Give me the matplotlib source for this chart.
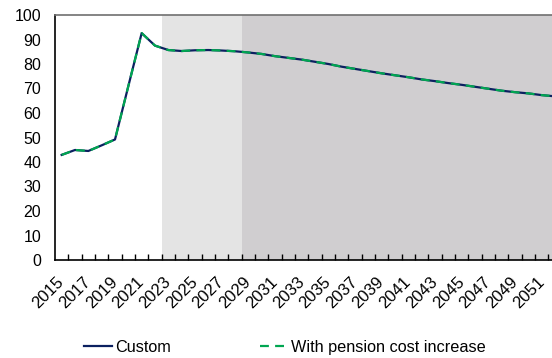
import matplotlib
matplotlib.use("Agg")
import matplotlib.pyplot as plt
from matplotlib.ticker import FixedLocator

plt.rcParams['font.family'] = ['Liberation Sans', 'DejaVu Sans']

years = list(range(2015, 2053))
custom = [42.9, 44.9, 44.5, 46.8, 49.2, 71.0, 92.6, 87.5, 85.7, 85.3,
          85.6, 85.7, 85.5, 85.2, 84.7, 84.1, 83.2, 82.5, 81.8, 80.9,
          80.0, 78.9, 78.0, 77.1, 76.2, 75.4, 74.6, 73.7, 73.0, 72.2,
          71.5, 70.7, 69.9, 69.1, 68.5, 68.0, 67.3, 66.8]
pension = list(custom)

series_names = ["Custom", "With pension cost increase"]
shade_light = (2023, 2028)   # first and last year of the light band
shade_dark_start = 2029

fig = plt.figure(figsize=(5.52, 3.58), dpi=100)
ax = fig.add_axes([55/552, 98/358, 38*13.335/552, 245/358])

x = list(range(len(years)))
i_l0 = years.index(shade_light[0]); i_l1 = years.index(shade_light[1])
i_d0 = years.index(shade_dark_start)
ax.axvspan(i_l0 - 0.5, i_l1 + 0.5, color='#E4E4E4', lw=0, zorder=0)
ax.axvspan(i_d0 - 0.5, len(years) - 0.5, color='#D0CED0', lw=0, zorder=0)

ax.plot(x, custom, color='#0B2060', lw=1.6, label=series_names[0], zorder=3)
ax.plot(x, pension, color='#00A651', lw=1.6, dashes=(4, 2.8),
        label=series_names[1], zorder=4)

ax.set_xlim(-0.5, len(years) - 0.5)
ax.set_ylim(0, 100)
ax.set_yticks(range(0, 101, 10))
ax.tick_params(axis='y', length=0, pad=10, labelsize=11.5)

ax.set_xticks(x[::2])
ax.set_xticklabels([str(y) for y in years[::2]], rotation=45,
                   rotation_mode='anchor', ha='right', va='center')
ax.xaxis.set_minor_locator(FixedLocator([i + 0.5 for i in range(len(years) - 1)]))
ax.tick_params(axis='x', which='major', length=0, pad=14, labelsize=12)
ax.tick_params(axis='x', which='minor', direction='in', length=4, width=1, color='black')

for s in ['left', 'bottom']:
    ax.spines[s].set_color('black')
    ax.spines[s].set_linewidth(1.2)
ax.spines['top'].set_color('#707070')
ax.spines['top'].set_linewidth(1.2)
ax.spines['right'].set_visible(False)

fig.legend(loc='center', bbox_to_anchor=(0.516, 0.03), ncol=2, frameon=False,
           fontsize=11.7, handlelength=1.72, handletextpad=0.18, columnspacing=5.5)

fig.savefig('out.png', dpi=100)
